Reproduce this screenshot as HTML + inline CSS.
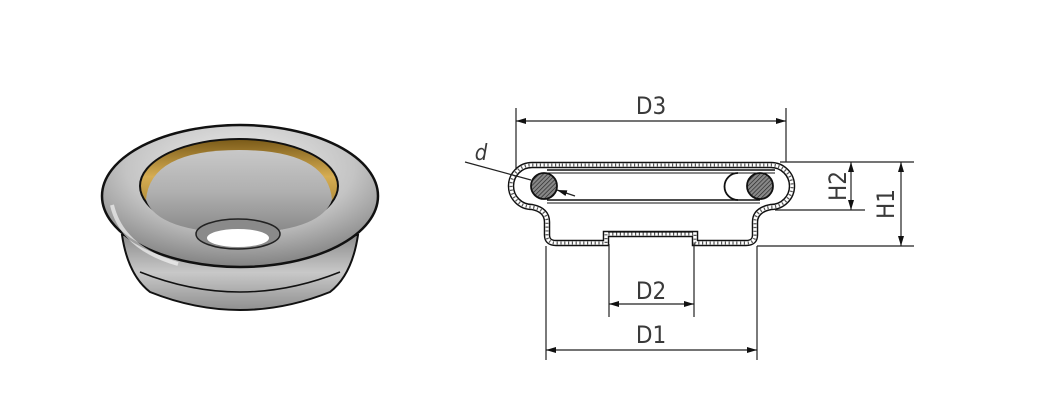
<!DOCTYPE html>
<html><head><meta charset="utf-8"><style>
html,body{margin:0;padding:0;background:#fff;width:1050px;height:405px;overflow:hidden}
svg{display:block}
text{font-family:"DejaVu Sans Condensed","Liberation Sans Narrow","Liberation Sans",sans-serif;fill:#3a3a3a}
</style></head><body>
<svg width="1050" height="405" viewBox="0 0 1050 405" xmlns="http://www.w3.org/2000/svg">
<defs>
<radialGradient id="g1" cx="0.5" cy="0.3" r="0.75">
<stop offset="0" stop-color="#f0f0f0"/><stop offset="0.55" stop-color="#c4c4c4"/><stop offset="1" stop-color="#777"/></radialGradient>
<linearGradient id="gold" x1="0" y1="0" x2="0" y2="1">
<stop offset="0" stop-color="#7a5a18"/><stop offset="0.4" stop-color="#d6ad52"/><stop offset="1" stop-color="#8a6a22"/></linearGradient>
<linearGradient id="inner" x1="0" y1="0" x2="0" y2="1">
<stop offset="0" stop-color="#c8c8c8"/><stop offset="0.5" stop-color="#b0b0b0"/><stop offset="1" stop-color="#888"/></linearGradient>
<linearGradient id="sk" x1="0" y1="0" x2="0" y2="1">
<stop offset="0" stop-color="#8c8c8c"/><stop offset="0.5" stop-color="#c8c8c8"/><stop offset="1" stop-color="#909090"/></linearGradient>
<pattern id="hatch" width="3" height="3" patternUnits="userSpaceOnUse" patternTransform="rotate(45)">
<rect width="3" height="3" fill="#888"/><line x1="0" y1="0" x2="0" y2="3" stroke="#222" stroke-width="1.3"/></pattern>
<marker id="ar" viewBox="0 0 10 6" refX="10" refY="3" markerWidth="10" markerHeight="6" orient="auto-start-reverse" markerUnits="userSpaceOnUse"><path d="M0,0 L10,3 L0,6z" fill="#111"/></marker>
</defs>

<!-- 3D part -->
<path d="M122,235 Q128,275 150,292 Q240,328 330,292 Q352,275 358,235 Z" fill="url(#sk)" stroke="#111" stroke-width="2"/>
<path d="M140,272 Q240,312 340,272" fill="none" stroke="#111" stroke-width="1.5"/>
<ellipse cx="240" cy="196" rx="138" ry="71" fill="url(#g1)" stroke="#111" stroke-width="2.5"/>
<ellipse cx="239" cy="186" rx="99" ry="47" fill="url(#gold)" stroke="#111" stroke-width="2"/>
<path d="M146,200 Q150,150 239,150 Q328,150 332,200 Q320,232 239,233 Q158,232 146,200Z" fill="url(#inner)"/>
<ellipse cx="238" cy="234" rx="42" ry="15" fill="#8a8a8a" stroke="#222" stroke-width="1.5"/>
<ellipse cx="238" cy="238" rx="31" ry="9" fill="#fff"/>
<path d="M112,205 Q122,248 178,264" fill="none" stroke="#fff" stroke-width="4" opacity="0.6"/>

<!-- section drawing shell -->
<g fill="none">
<path d="M560,165 L532,165 A21,21 0 0 0 532,207 Q547,210 547,222 L547,235 Q547,243 556,243 L606,243 L606,234 L695,234 L695,243 L746,243 Q755,243 755,235 L755,222 Q755,210 771,207 A21,21 0 0 0 771,165 L560,165" stroke-width="6.5" stroke="#111"/>
<path d="M560,165 L532,165 A21,21 0 0 0 532,207 Q547,210 547,222 L547,235 Q547,243 556,243 L606,243 L606,234 L695,234 L695,243 L746,243 Q755,243 755,235 L755,222 Q755,210 771,207 A21,21 0 0 0 771,165 L560,165" stroke-width="3.6" stroke="#fff"/>
<path d="M560,165 L532,165 A21,21 0 0 0 532,207 Q547,210 547,222 L547,235 Q547,243 556,243 L606,243 L606,234 L695,234 L695,243 L746,243 Q755,243 755,235 L755,222 Q755,210 771,207 A21,21 0 0 0 771,165 L560,165" stroke-width="3" stroke="#555" stroke-dasharray="1.2 2.6"/>
<g stroke="#111">
<line x1="547" y1="170" x2="775" y2="170" stroke-width="1.5"/>
<line x1="547" y1="173" x2="775" y2="173" stroke-width="1"/>
<line x1="547" y1="200" x2="760" y2="200" stroke-width="1.5"/>
<line x1="547" y1="203" x2="760" y2="203" stroke-width="1"/>
<path d="M738,173 A13.5,13.5 0 0 0 738,200" stroke-width="1.8"/>
<line x1="608" y1="232" x2="693" y2="232" stroke-width="1.2"/>
</g>
</g>
<circle cx="544" cy="186" r="13" fill="url(#hatch)" stroke="#111" stroke-width="1.8"/>
<circle cx="760" cy="186" r="13" fill="url(#hatch)" stroke="#111" stroke-width="1.8"/>

<!-- dimension lines -->
<g stroke="#222" stroke-width="1.2" fill="none">
<line x1="516" y1="108" x2="516" y2="170"/>
<line x1="786" y1="108" x2="786" y2="162"/>
<line x1="516" y1="121" x2="786" y2="121" marker-start="url(#ar)" marker-end="url(#ar)"/>
<line x1="780" y1="162" x2="914" y2="162"/>
<line x1="775" y1="210" x2="865" y2="210"/>
<line x1="757" y1="246" x2="914" y2="246"/>
<line x1="851" y1="162" x2="851" y2="210" marker-start="url(#ar)" marker-end="url(#ar)"/>
<line x1="901" y1="162" x2="901" y2="246" marker-start="url(#ar)" marker-end="url(#ar)"/>
<line x1="546" y1="246" x2="546" y2="360"/>
<line x1="757" y1="246" x2="757" y2="360"/>
<line x1="609" y1="244" x2="609" y2="317"/>
<line x1="694" y1="244" x2="694" y2="317"/>
<line x1="609" y1="304" x2="694" y2="304" marker-start="url(#ar)" marker-end="url(#ar)"/>
<line x1="546" y1="350" x2="757" y2="350" marker-start="url(#ar)" marker-end="url(#ar)"/>
<line x1="465" y1="162" x2="531" y2="180"/>
<line x1="575" y1="196" x2="557" y2="190" marker-end="url(#ar)"/>
</g>
<text x="651" y="114" font-size="24" text-anchor="middle">D3</text>
<text x="651" y="299" font-size="24" text-anchor="middle">D2</text>
<text x="651" y="343" font-size="24" text-anchor="middle">D1</text>
<text x="481" y="160" font-size="22" font-style="italic" text-anchor="middle">d</text>
<text transform="translate(846,186) rotate(-90)" font-size="24" text-anchor="middle">H2</text>
<text transform="translate(894,204) rotate(-90)" font-size="24" text-anchor="middle">H1</text>
</svg>
</body></html>
